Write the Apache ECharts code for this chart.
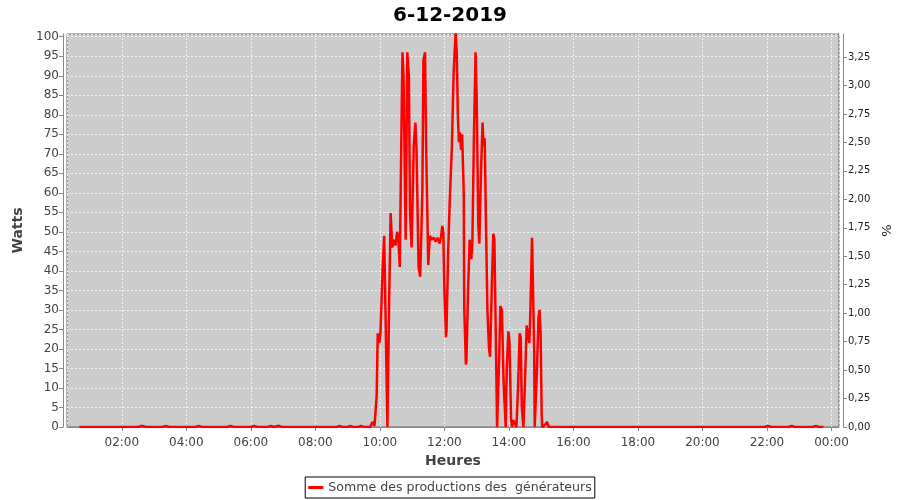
<!DOCTYPE html>
<html><head><meta charset="utf-8">
<script src="https://cdn.jsdelivr.net/npm/echarts@6/dist/echarts.min.js"></script>
<style>html,body{margin:0;padding:0;background:#fff}#c{width:900px;height:500px}</style>
</head><body><div id="c"></div>
<script>
const chartTitle = "6-12-2019";
const seriesName = "Somme des productions des  générateurs";
const xAxisName = "Heures";
const yAxisName = "Watts";
const y2AxisName = "%";
const xRange = ["00:18", "24:14"];
const yRange = [0, 100.7];
const y2Range = [0, 3.452];

const times = [
  "00:41","02:30","02:38","02:45","03:15","03:22","03:28","04:17","04:23","04:29",
  "05:16","05:22","05:28","06:00","06:06","06:12","06:31","06:37","06:43","06:52","06:58",
  "08:40","08:45","08:50","09:00","09:05","09:10","09:20","09:25","09:30","09:38",
  "09:42","09:46","09:50","09:54","09:56","09:59","10:01","10:05","10:08","10:11",
  "10:14","10:17","10:20","10:23","10:27","10:29","10:32","10:34","10:37","10:40",
  "10:42","10:44","10:48","10:51","10:54","10:56","10:59","11:03","11:06","11:08",
  "11:12","11:15","11:19","11:21","11:24","11:26","11:30","11:33","11:36","11:40",
  "11:44","11:47","11:51","11:54","11:56","11:58","12:00","12:03","12:04","12:07",
  "12:10","12:12","12:14","12:17","12:19","12:21","12:23","12:25","12:27","12:29",
  "12:31","12:33","12:36","12:37","12:40","12:41","12:44","12:47","12:50","12:52",
  "12:55","12:58","13:00","13:03","13:05","13:08","13:11","13:13","13:15","13:17",
  "13:20","13:23","13:25","13:28","13:31","13:33","13:36","13:38","13:42","13:44",
  "13:47","13:50","13:54","13:56","13:59","14:01","14:04","14:06","14:08","14:11",
  "14:14","14:17","14:20","14:22","14:24","14:27","14:30","14:33","14:35","14:38",
  "14:40","14:43","14:45","14:47","14:48","14:52","14:55","14:57","14:59","15:01",
  "15:02","15:07","15:11","15:14","21:56","22:02","22:08","22:40","22:46","22:52",
  "23:25","23:31","23:37","23:45"
];
const watts = [
  0,0,0.3,0,0,0.3,0,0,0.3,0,
  0,0.3,0,0,0.3,0,0,0.3,0,0.3,0,
  0,0.3,0,0,0.3,0,0,0.3,0,0,
  0,1.3,0.3,8,24,21.5,24,40,49,25,
  0,30,54.8,46,48,46.5,50,49,41,75,
  96,90,48,96,90,55,46,72,78,72,
  41,38.5,60,94,96,72,41.5,49,48,48.5,
  47.5,48.5,47,49,51.5,50,35,23,25,45,
  58,65,72,90,96,100.9,96,80,73,75.5,
  71,75,60,30,16,17,35,48,43,47,
  75,96,85,52,47,65,78,72,74,55,
  30,20,18,35,49.5,48,20,0,18,31,
  30,12,0,15,24.5,22,2,0,1.8,2,
  0,10,24,23,5,0,12,26,24,21.5,
  30,48.5,48,20,0,14,28,30,24,3,
  0,0.5,1.3,0,0,0.3,0,0,0.3,0,
  0,0.3,0,0
];

function toTs(s) {
  const p = s.split(':');
  return new Date(2019, 11, 6, +p[0], +p[1]).getTime();
}
function pad(n) { return (n < 10 ? '0' : '') + n; }
const data = times.map((t, i) => [toTs(t), watts[i]]);

const FONT = 'DejaVu Sans';
const gridLine = { show: true, lineStyle: { color: 'rgba(255,255,255,0.75)', type: [2, 2], width: 1 } };
const axisLine = { show: true, lineStyle: { color: '#888', width: 1 } };
const axisTick = { show: true, length: 4, lineStyle: { color: '#888' } };

const chart = echarts.init(document.getElementById('c'), null, { renderer: 'canvas' });
chart.setOption({
  animation: false,
  backgroundColor: '#ffffff',
  title: {
    text: chartTitle, left: 'center', top: 1,
    textStyle: { fontFamily: FONT, fontSize: 20, fontWeight: 'bold', color: '#000' }
  },
  legend: {
    bottom: 2, left: 'center',
    data: [seriesName],
    icon: 'rect', itemWidth: 15, itemHeight: 3, itemGap: 5,
    borderColor: '#000', borderWidth: 1, borderRadius: 0, padding: [4, 3],
    textStyle: { fontFamily: FONT, fontSize: 12.6, color: '#444' }
  },
  grid: {
    left: 67, right: 61, top: 34, bottom: 73,
    show: true, backgroundColor: '#cccccc', borderColor: '#666', borderWidth: 1,
    containLabel: false, outerBoundsMode: 'none'
  },
  xAxis: {
    type: 'time',
    min: toTs(xRange[0]), max: toTs(xRange[1]),
    splitNumber: 8,
    offset: 4,
    name: xAxisName, nameLocation: 'middle', nameGap: 20,
    nameTextStyle: { fontFamily: FONT, fontSize: 14, fontWeight: 'bold', color: '#444', verticalAlign: 'top' },
    axisLine: axisLine, axisTick: axisTick,
    axisLabel: {
      fontFamily: FONT, fontSize: 12, color: '#444', margin: 6,
      showMinLabel: false, showMaxLabel: false,
      formatter: function (v) { const d = new Date(v); return pad(d.getHours()) + ':' + pad(d.getMinutes()); }
    },
    splitLine: gridLine
  },
  yAxis: [{
    type: 'value', min: yRange[0], max: yRange[1], interval: 5,
    offset: 4,
    name: yAxisName, nameLocation: 'middle', nameGap: 30, nameRotate: 90,
    nameTextStyle: { fontFamily: FONT, fontSize: 14, fontWeight: 'bold', color: '#444' },
    axisLine: axisLine, axisTick: axisTick,
    axisLabel: { fontFamily: FONT, fontSize: 12, color: '#444', margin: 4, showMaxLabel: false,
      formatter: function (v) { return (v % 5 === 0) ? String(v) : ''; } },
    splitLine: gridLine
  }, {
    type: 'value', position: 'right', min: y2Range[0], max: y2Range[1], interval: 0.25,
    offset: 4,
    name: y2AxisName, nameLocation: 'middle', nameGap: 26, nameRotate: 90,
    nameTextStyle: { fontFamily: FONT, fontSize: 13, color: '#222' },
    axisLine: axisLine, axisTick: axisTick,
    axisLabel: { fontFamily: FONT, fontSize: 10, color: '#222', margin: 5, showMaxLabel: false,
      formatter: function (v) { return v.toFixed(2).replace('.', ','); } },
    splitLine: { show: false }
  }],
  series: [{
    name: seriesName, type: 'line', data: data,
    yAxisIndex: 0,
    showSymbol: false, symbol: 'none',
    lineStyle: { color: '#ff0000', width: 2.5 },
    itemStyle: { color: '#ff0000' },
    clip: true
  }]
});
</script>
</body></html>
